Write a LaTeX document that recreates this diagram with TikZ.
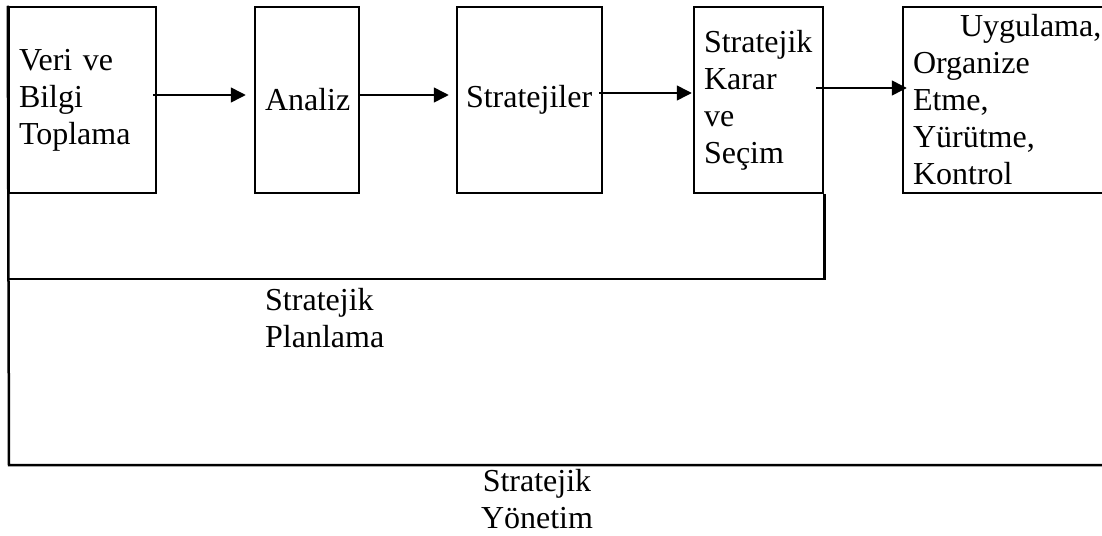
\documentclass[tikz,border=0pt]{standalone}
\usepackage{fontspec}
\setmainfont{Liberation Serif}
\usetikzlibrary{arrows.meta}
\begin{document}
\begin{tikzpicture}[x=1pt,y=-1pt,
  font=\fontsize{32}{37}\selectfont,
  blok/.style={draw,line width=2.5pt,align=left,inner xsep=10pt,minimum height=186pt},
  ok/.style={line width=1.5pt,-{Triangle[length=15pt,width=15pt]}},
  cizgi/.style={line width=2.5pt}]
\useasboundingbox (0,0) rectangle (1102,535);
\node[blok,text width=127pt] (veri) at (82.5,100) {Veri ve\\Bilgi\\Toplama};
\node[blok,text width=84pt] (analiz) at (307,100) {Analiz};
\node[blok,text width=127pt,inner xsep=9pt] (strateji) at (529.5,100) {Stratejiler};
\node[blok,text width=109pt] (karar) at (758.5,100) {Stratejik\\Karar\\ve\\Se\c{c}im};
\node[blok,text width=190pt] (uygulama) at (1008,100) {\mbox{\hspace*{47pt}Uygulama,}\\Organize\\Etme,\\Y\"ur\"utme,\\Kontrol};
% oklar
\draw[ok,shorten <=-4pt,shorten >=8pt] ([yshift=5pt]veri.east) -- ([yshift=5pt]analiz.west);
\draw[ok,shorten <=-2pt,shorten >=7pt] ([yshift=5pt]analiz.east) -- ([yshift=5pt]strateji.west);
\draw[ok,shorten <=-4pt,shorten >=1pt] ([yshift=7pt]strateji.east) -- ([yshift=7pt]karar.west);
\draw[ok,shorten <=-8pt,shorten >=-5pt] ([yshift=12pt]karar.east) -- ([yshift=12pt]uygulama.west);
% planlama ve yonetim
\draw[cizgi] (veri.north west) -- (9,465) -- (1110,465);
\draw[cizgi] (9,279) -- (karar.south east |- 0,279) -- (karar.south east);
\node[align=left,inner sep=0pt,anchor=north west] (planlama) at (265,288) {Stratejik\\Planlama};
\node[align=center,inner sep=0pt,anchor=north] (yonetim) at (537,469) {Stratejik\\Y\"onetim};
\end{tikzpicture}
\end{document}
